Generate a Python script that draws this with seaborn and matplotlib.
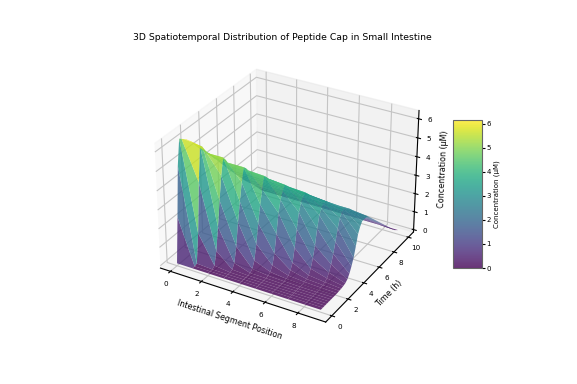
import numpy as np
import pandas as pd
import matplotlib
matplotlib.use('Agg')
import matplotlib.pyplot as plt
import seaborn as sns

# time grid (h) and concentration per segment
time_h = [0, .25, .5, .75, 1, 1.25, 1.5, 1.75, 2, 2.25, 2.5, 2.75, 3, 3.25, 3.5, 3.75, 4,
          4.25, 4.5, 4.75, 5, 5.25, 5.5, 5.75, 6, 6.5, 7, 7.5, 8, 8.5, 9, 9.5, 10]
seg0 = [0, 2.4, 5.0, 6.3, 6.2, 6.1, 6.0, 5.85, 5.7, 5.5, 5.3, 5.15, 5.0, 4.85, 4.65, 4.45, 4.3,
        4.1, 3.9, 3.75, 3.55, 3.35, 3.2, 3.0, 2.8, 2.45, 2.1, 1.75, 1.4, 1.1, .8, .45, .1]
seg1 = [0, 0, .05, 1.6, 4.2, 6.0, 5.85, 5.6, 5.35, 5.15, 5.0, 4.85, 4.7, 4.55, 4.4, 4.2, 4.05,
        3.9, 3.75, 3.55, 3.4, 3.25, 3.1, 2.95, 2.8, 2.45, 2.1, 1.8, 1.45, 1.1, .8, .45, .1]
seg2 = [0, 0, 0, .1, .8, 2.0, 3.3, 4.5, 5.35, 5.15, 4.9, 4.75, 4.6, 4.45, 4.3, 4.15, 4.0,
        3.85, 3.7, 3.55, 3.4, 3.25, 3.1, 2.95, 2.8, 2.45, 2.1, 1.75, 1.4, 1.1, .75, .4, .1]
seg3 = [0, 0, 0, 0, .05, .3, 1.1, 2.3, 3.3, 4.2, 4.9, 4.75, 4.55, 4.4, 4.25, 4.1, 3.95,
        3.8, 3.65, 3.5, 3.35, 3.2, 3.05, 2.9, 2.75, 2.4, 2.05, 1.75, 1.4, 1.05, .75, .4, .1]
seg4 = [0, 0, 0, 0, 0, .03, .15, .5, 1.3, 2.3, 3.2, 3.9, 4.5, 4.35, 4.15, 4.0, 3.9,
        3.75, 3.6, 3.45, 3.3, 3.15, 3.0, 2.85, 2.7, 2.4, 2.05, 1.7, 1.4, 1.05, .75, .4, .1]
seg5 = [0, 0, 0, 0, 0, .02, .05, .15, .4, .95, 1.9, 2.9, 3.5, 3.85, 4.1, 3.95, 3.8,
        3.6, 3.5, 3.35, 3.2, 3.05, 2.9, 2.8, 2.65, 2.35, 2.0, 1.7, 1.35, 1.05, .75, .4, .1]
seg6 = [0, 0, 0, 0, 0, 0, .02, .05, .12, .3, .6, 1.3, 2.2, 3.0, 3.4, 3.6, 3.75,
        3.6, 3.4, 3.3, 3.15, 3.0, 2.85, 2.75, 2.6, 2.3, 1.95, 1.65, 1.35, 1.05, .7, .4, .1]
seg7 = [0, 0, 0, 0, 0, 0, 0, .02, .05, .1, .2, .45, .9, 1.5, 2.3, 2.9, 3.15,
        3.3, 3.35, 3.2, 3.05, 2.95, 2.8, 2.65, 2.5, 2.2, 1.9, 1.55, 1.25, .95, .65, .35, .1]
seg8 = [0, 0, 0, 0, 0, 0, 0, 0, .02, .05, .1, .2, .4, .75, 1.2, 1.75, 2.35,
        2.8, 3.0, 3.1, 3.0, 2.9, 2.8, 2.65, 2.5, 2.2, 1.85, 1.55, 1.25, .95, .65, .35, .1]
seg9 = [0, 0, 0, 0, 0, 0, 0, 0, 0, .02, .03, .06, .1, .2, .4, .7, 1.05,
        1.55, 2.1, 2.4, 2.6, 2.6, 2.6, 2.55, 2.4, 2.1, 1.8, 1.5, 1.2, .9, .6, .3, .1]

df = pd.DataFrame({0: seg0, 1: seg1, 2: seg2, 3: seg3, 4: seg4,
                   5: seg5, 6: seg6, 7: seg7, 8: seg8, 9: seg9}, index=time_h)

X, T = np.meshgrid(df.columns.values, df.index.values)
C = df.values

cmap = sns.color_palette('viridis', as_cmap=True)

fig = plt.figure(figsize=(5.77, 3.84), dpi=100)
ax = fig.add_axes([0.172, 0.113, 0.645, 0.766], projection='3d')
surf = ax.plot_surface(X, T, C, cmap=cmap, alpha=0.8, linewidth=0, antialiased=True,
                       rcount=50, ccount=50, vmin=0, vmax=6.15)

fig.suptitle('3D Spatiotemporal Distribution of Peptide Cap in Small Intestine', fontsize=6.7,
             x=282/577, y=1-38/384, va='center')
ax.set_xlabel('Intestinal Segment Position', fontsize=5.8, labelpad=-8)
ax.set_ylabel('Time (h)', fontsize=5.8, labelpad=-9)
ax.set_zlabel('Concentration (μM)', fontsize=5.8, labelpad=-9)
ax.tick_params(labelsize=5.2, pad=-3)
ax.set_xticks([0, 2, 4, 6, 8])
ax.set_yticks([0, 2, 4, 6, 8, 10])
ax.set_zticks([0, 1, 2, 3, 4, 5, 6])
for axis in (ax.xaxis, ax.yaxis, ax.zaxis):
    axis._axinfo['grid']['linewidth'] = 0.8
    axis._axinfo['grid']['color'] = '#c4c4c4'

cax = fig.add_axes([0.785, 0.302, 0.05, 0.385])
cb = fig.colorbar(surf, cax=cax)
cb.ax.tick_params(labelsize=5, length=2, pad=1.5)
cb.outline.set_edgecolor('#666666')
cb.set_label('Concentration (μM)', fontsize=5, labelpad=1.5)

plt.savefig('out.png', dpi=100)
plt.close()
